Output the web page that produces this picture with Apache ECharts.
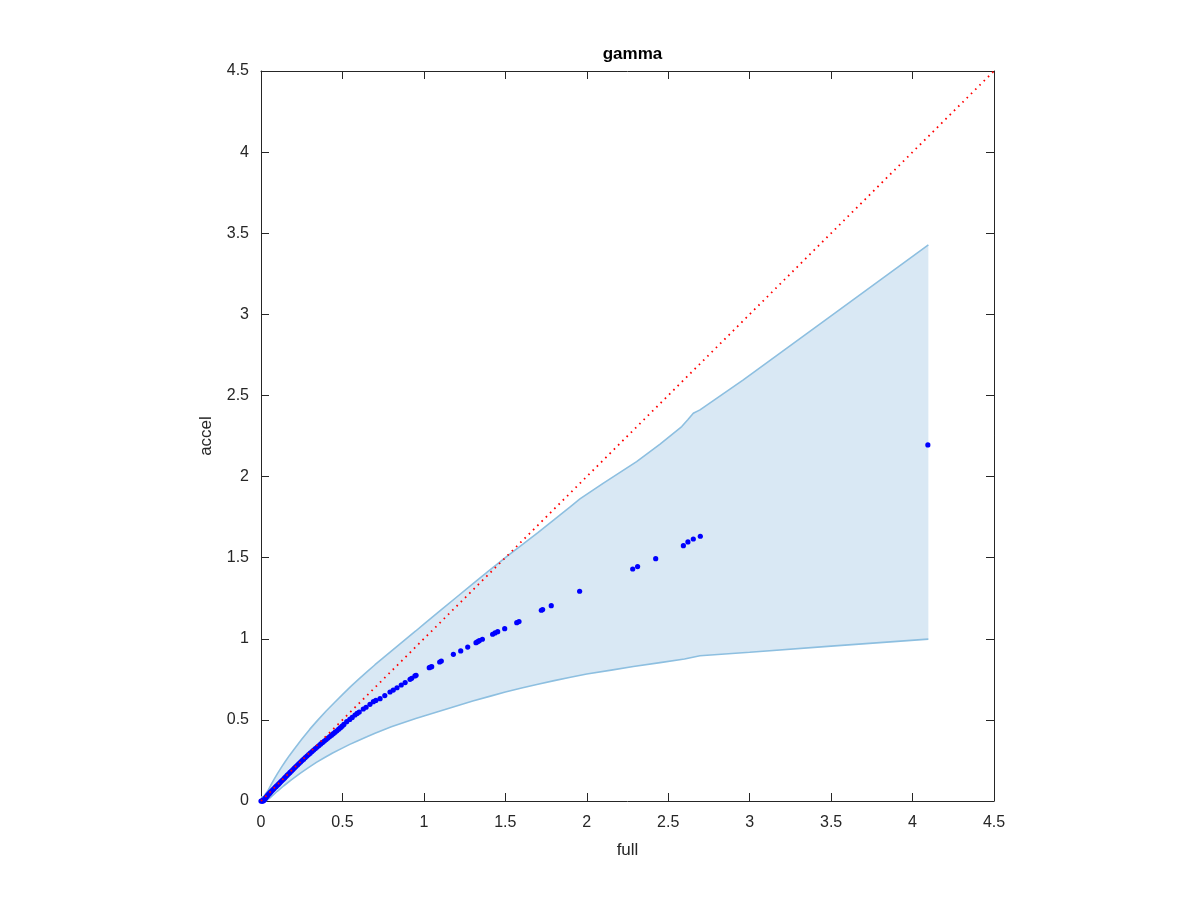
<!DOCTYPE html>
<html>
<head>
<meta charset="utf-8">
<script src="https://cdn.jsdelivr.net/npm/echarts@6/dist/echarts.min.js"></script>
<style>html,body{margin:0;padding:0;background:#fff;}#chart{width:1200px;height:900px;}</style>
</head>
<body>
<div id="chart"></div>
<script>
// ---- data ----
var titleText = 'gamma';
var xLabel = 'full';
var yLabel = 'accel';
var axisMin = 0, axisMax = 4.5, axisStep = 0.5;

// blue points (full, accel)
var pointsDense = [
 [0.000,0.000],[0.004,0.000],[0.008,0.001],[0.011,0.000],[0.014,0.002],[0.017,0.004],[0.020,0.008],[0.023,0.012],
 [0.026,0.016],[0.030,0.021],[0.034,0.026],[0.038,0.031],[0.042,0.036],[0.047,0.042],[0.052,0.047],[0.057,0.053],
 [0.062,0.058],[0.068,0.064],[0.074,0.071],[0.080,0.077],[0.087,0.084],[0.093,0.090],[0.100,0.097],[0.107,0.104],
 [0.114,0.111],[0.121,0.118],[0.129,0.126],[0.137,0.134],[0.145,0.142],[0.153,0.151],[0.161,0.159],[0.170,0.168],
 [0.178,0.176],[0.187,0.185],[0.196,0.194],[0.205,0.203],[0.214,0.212],[0.224,0.222],[0.233,0.231],[0.243,0.240],
 [0.252,0.249],[0.262,0.258],[0.272,0.268],[0.282,0.277],[0.292,0.286],[0.302,0.295],[0.313,0.305],[0.323,0.314],
 [0.334,0.323],[0.345,0.333],[0.356,0.342],[0.367,0.352],[0.378,0.361],[0.389,0.370],[0.400,0.379],[0.411,0.388],
 [0.422,0.397],[0.433,0.406],[0.444,0.415],[0.455,0.424],[0.466,0.433],[0.477,0.443],[0.488,0.452],[0.498,0.461],
 [0.509,0.472]
];
var pointsSparse = [
 [0.526,0.489],[0.545,0.503],[0.560,0.515],[0.577,0.530],[0.590,0.540],[0.603,0.548],[0.628,0.567],[0.645,0.578],
 [0.669,0.596],[0.690,0.612],[0.705,0.620],[0.731,0.631],[0.760,0.650],[0.792,0.672],[0.812,0.684],[0.835,0.698],
 [0.861,0.715],[0.885,0.730],[0.915,0.750],[0.925,0.756],[0.945,0.771],[0.952,0.775],[1.033,0.822],[1.041,0.826],
 [1.048,0.828],[1.097,0.857],[1.107,0.863],[1.181,0.904],[1.226,0.925],[1.269,0.949],[1.320,0.976],[1.330,0.982],
 [1.340,0.988],[1.359,0.997],[1.422,1.028],[1.437,1.036],[1.453,1.044],[1.496,1.062],[1.570,1.099],[1.584,1.106],
 [1.721,1.176],[1.729,1.180],[1.782,1.204],[1.956,1.293],[2.282,1.430],[2.312,1.445],[2.423,1.494],[2.593,1.574],
 [2.621,1.597],[2.654,1.615],[2.697,1.632],[4.094,2.195]
];

// band upper and lower edges
var bandUpper = [
 [0.000,0.025],[0.015,0.027],[0.025,0.034],[0.040,0.060],[0.060,0.097],[0.080,0.133],[0.100,0.167],[0.125,0.207],
 [0.150,0.245],[0.175,0.281],[0.200,0.315],[0.250,0.380],[0.300,0.443],[0.350,0.500],[0.400,0.555],[0.450,0.606],
 [0.500,0.656],[0.550,0.705],[0.600,0.751],[0.650,0.796],[0.700,0.840],[0.750,0.882],[0.800,0.924],[0.850,0.966],
 [0.900,1.007],[0.950,1.048],[1.000,1.090],[1.100,1.173],[1.200,1.256],[1.300,1.338],[1.400,1.420],[1.500,1.500],
 [1.600,1.578],[1.700,1.655],[1.800,1.735],[1.900,1.815],[1.958,1.862],[2.100,1.958],[2.306,2.092],[2.450,2.200],
 [2.583,2.308],[2.620,2.350],[2.654,2.390],[2.695,2.411],[2.961,2.596],[3.500,2.991],[4.097,3.428]
];
var bandLower = [
 [0.030,0.000],[0.050,0.015],[0.070,0.033],[0.100,0.060],[0.140,0.094],[0.186,0.130],[0.240,0.170],[0.289,0.204],
 [0.340,0.238],[0.391,0.268],[0.440,0.296],[0.493,0.323],[0.545,0.349],[0.595,0.372],[0.650,0.396],[0.700,0.418],
 [0.750,0.438],[0.800,0.457],[0.850,0.475],[0.900,0.492],[0.950,0.508],[1.000,0.524],[1.100,0.555],[1.200,0.586],
 [1.300,0.616],[1.414,0.648],[1.500,0.672],[1.600,0.697],[1.700,0.720],[1.800,0.742],[1.900,0.763],[2.000,0.783],
 [2.150,0.807],[2.286,0.829],[2.450,0.853],[2.600,0.875],[2.695,0.895],[3.000,0.917],[3.500,0.955],[4.097,0.998]
];

// reference diagonal
var diagonal = [[0,0],[4.5,4.5]];

// ---- chart ----
var FONT = '"Liberation Sans", Helvetica, Arial, sans-serif';
var AX = '#262626';
var chart = echarts.init(document.getElementById('chart'), null, {renderer: 'canvas'});

function axisCommon(show, margin) {
  return {
    type: 'value', min: axisMin, max: axisMax, interval: axisStep,
    axisLine: {show: true, onZero: false, lineStyle: {color: AX, width: 1}},
    axisTick: {show: true, inside: true, length: 8, lineStyle: {color: AX, width: 1}},
    axisLabel: {show: show, color: AX, fontSize: 16, fontFamily: FONT, margin: margin || 10},
    splitLine: {show: false}
  };
}

var bandPoly = bandUpper.concat(bandLower.slice().reverse());

var option = {
  animation: false,
  backgroundColor: '#ffffff',
  title: {
    text: titleText, left: 627.5, top: 41, textAlign: 'center',
    textStyle: {fontSize: 17, fontWeight: 'bold', color: '#000', fontFamily: FONT}
  },
  grid: {left: 261, right: 206, top: 71, bottom: 99},
  xAxis: [
    Object.assign(axisCommon(true, 14), {position: 'bottom', name: xLabel, nameLocation: 'middle', nameGap: 41,
      nameTextStyle: {fontSize: 17, color: AX, fontFamily: FONT}}),
    Object.assign(axisCommon(false), {position: 'top'})
  ],
  yAxis: [
    Object.assign(axisCommon(true, 12), {position: 'left', name: yLabel, nameLocation: 'middle', nameGap: 46,
      nameTextStyle: {fontSize: 17, color: AX, fontFamily: FONT}}),
    Object.assign(axisCommon(false), {position: 'right'})
  ],
  series: [
    {
      type: 'custom', silent: true, z: 1,
      data: [[0, 0]],
      renderItem: function (params, api) {
        var pts = bandPoly.map(function (p) { return api.coord(p); });
        return {type: 'polygon', shape: {points: pts}, style: {fill: '#d9e8f4', stroke: null}};
      }
    },
    {
      type: 'line', data: bandUpper, showSymbol: false, z: 2, silent: true,
      lineStyle: {color: '#8dbfe0', width: 1.6}
    },
    {
      type: 'line', data: bandLower, showSymbol: false, z: 2, silent: true,
      lineStyle: {color: '#8dbfe0', width: 1.6}
    },
    {
      type: 'scatter', data: pointsDense.concat(pointsSparse), z: 3, silent: true,
      symbol: 'circle', symbolSize: 5.2,
      itemStyle: {color: '#0000ff', opacity: 1}
    },
    {
      type: 'line', data: diagonal, showSymbol: false, z: 4, silent: true,
      lineStyle: {color: '#ff0000', width: 1.8, type: [1.6, 4.4], cap: 'butt'}
    }
  ]
};
chart.setOption(option);
</script>
</body>
</html>
